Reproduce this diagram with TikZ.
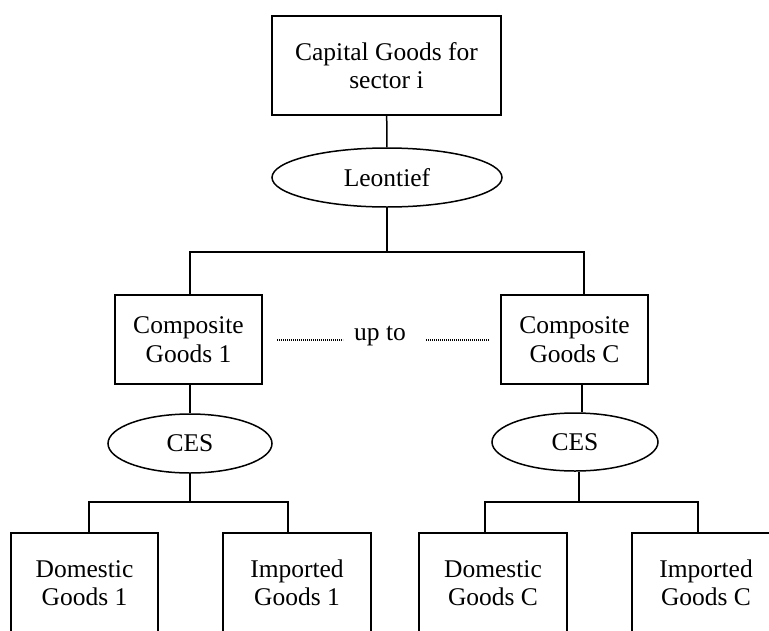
\documentclass[tikz,border=0pt]{standalone}
\usepackage{fontspec}
\setmainfont{Liberation Serif}
\usetikzlibrary{shapes.geometric}
\begin{document}
\begin{tikzpicture}[x=1pt,y=-1pt,
  every node/.style={font=\fontsize{25.5}{28.5}\selectfont, align=center, inner sep=0pt},
  box/.style={draw, line width=1.5pt, rectangle},
  ell/.style={draw, line width=1.5pt, ellipse},
  conn/.style={line width=1.5pt},
  dots/.style={line width=1.2pt, dash pattern=on 0.8pt off 1.2pt}]
\useasboundingbox (0,0) rectangle (769,630);
\fill[white] (0,0) rectangle (769,630);
\clip (0,0) rectangle (769,630);

% top
\node[box, minimum width=229pt, minimum height=99pt] (top) at (386.5,65.5) {Capital Goods for\\sector i};
\node[ell, minimum width=230pt, minimum height=59pt] (leon) at (387,177.5) {Leontief};

% composite level
\node[box, minimum width=147pt, minimum height=89pt] (cg1) at (188.5,339.5) {Composite\\Goods 1};
\node[box, minimum width=147pt, minimum height=89pt] (cgC) at (574.5,339.5) {Composite\\Goods C};
\node (upto) at (380,336) {up to};
\coordinate (d1s) at (277,340);
\coordinate (d1e) at (343,340);
\coordinate (d2s) at (426,340);
\coordinate (d2e) at (489,340);
\draw[dots] (d1s) -- (d1e);
\draw[dots] (d2s) -- (d2e);

% CES
\node[ell, minimum width=164pt, minimum height=59pt] (ces1) at (190,443.5) {CES};
\node[ell, minimum width=166pt, minimum height=58pt] (cesC) at (575,442) {CES};

% bottom boxes
\node[box, minimum width=147pt, minimum height=100pt] (dg1) at (84.5,583) {Domestic\\Goods 1};
\node[box, minimum width=148pt, minimum height=100pt] (ig1) at (297,583) {Imported\\Goods 1};
\node[box, minimum width=148pt, minimum height=100pt] (dgC) at (493,583) {Domestic\\Goods C};
\node[box, minimum width=148pt, minimum height=100pt] (igC) at (706,583) {Imported\\Goods C};

% connectors top
\coordinate (j0) at (387,252);
\coordinate (hl) at (190,252);
\coordinate (hr) at (584,252);
\draw[conn] (top) -- (leon);
\draw[conn] (leon.south) -- (j0);
\draw[conn] (cg1.north -| hl) -- (hl) -- (hr) -- (cgC.north -| hr);

% composite to CES
\coordinate (v1) at (190,0);
\coordinate (vC) at (582,0);
\draw[conn] (cg1.south -| v1) -- (ces1.north);
\draw[conn] (cgC.south -| vC) -- (cesC.north -| vC);

% CES to bottom boxes
\coordinate (b1) at (190,502);
\coordinate (b1l) at (89,502);
\coordinate (b1r) at (288,502);
\draw[conn] (ces1.south) -- (b1);
\draw[conn] (dg1.north -| b1l) -- (b1l) -- (b1r) -- (ig1.north -| b1r);

\coordinate (bC) at (579,502);
\coordinate (bCl) at (485,502);
\coordinate (bCr) at (698,502);
\draw[conn] (cesC.south -| bC) -- (bC);
\draw[conn] (dgC.north -| bCl) -- (bCl) -- (bCr) -- (igC.north -| bCr);
\end{tikzpicture}
\end{document}
